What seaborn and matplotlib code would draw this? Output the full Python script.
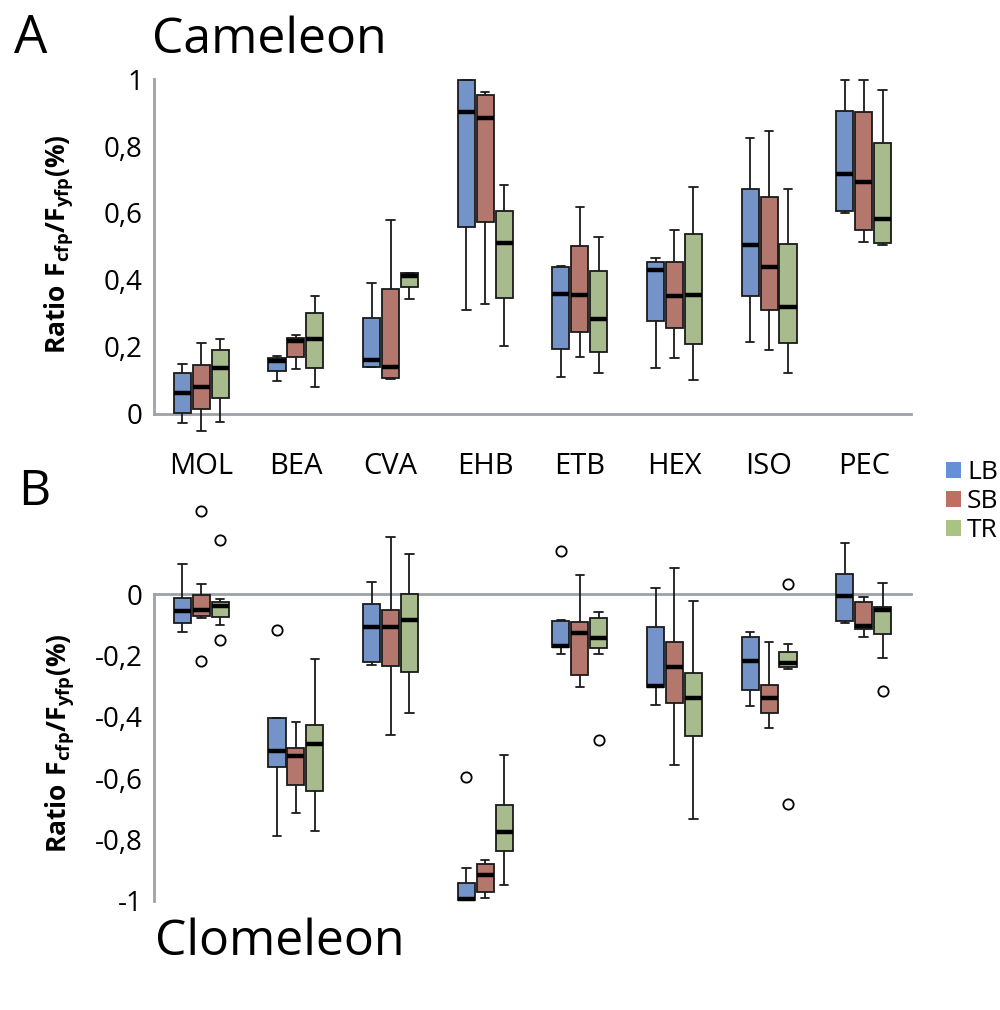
import numpy as np
import pandas as pd
import matplotlib
matplotlib.use("Agg")
import matplotlib.pyplot as plt
import seaborn as sns
from matplotlib.patches import Patch
from matplotlib.ticker import FuncFormatter, FixedLocator

categories = ['MOL', 'BEA', 'CVA', 'EHB', 'ETB', 'HEX', 'ISO', 'PEC']
groups = ['LB', 'SB', 'TR']
colors = ['#6690D6', '#C06E62', '#A8C384']

# five-number summaries per category: [whisker low, Q1, median, Q3, whisker high]
cam_LB = [[-0.028, 0.002, 0.064, 0.121, 0.149], [0.099, 0.129, 0.158, 0.166, 0.173],
          [0.141, 0.141, 0.161, 0.286, 0.392], [0.311, 0.558, 0.902, 0.996, 0.996],
          [0.111, 0.195, 0.357, 0.440, 0.442], [0.136, 0.278, 0.430, 0.453, 0.465],
          [0.216, 0.353, 0.505, 0.671, 0.823], [0.599, 0.607, 0.716, 0.904, 0.997]]
cam_SB = [[-0.051, 0.015, 0.081, 0.146, 0.211], [0.133, 0.171, 0.218, 0.228, 0.235],
          [0.104, 0.108, 0.141, 0.374, 0.579], [0.328, 0.574, 0.883, 0.953, 0.960],
          [0.170, 0.246, 0.354, 0.501, 0.618], [0.168, 0.256, 0.351, 0.453, 0.549],
          [0.191, 0.310, 0.440, 0.647, 0.846], [0.514, 0.549, 0.694, 0.901, 0.997]]
cam_TR = [[-0.023, 0.047, 0.136, 0.191, 0.225], [0.081, 0.138, 0.225, 0.302, 0.353],
          [0.343, 0.378, 0.412, 0.420, 0.420], [0.204, 0.347, 0.510, 0.607, 0.684],
          [0.121, 0.185, 0.284, 0.426, 0.529], [0.101, 0.210, 0.356, 0.536, 0.678],
          [0.121, 0.211, 0.320, 0.507, 0.673], [0.503, 0.510, 0.583, 0.808, 0.967]]

clo_LB = [[-0.123, -0.095, -0.053, -0.012, 0.098], [-0.787, -0.563, -0.510, -0.404, -0.404],
          [-0.229, -0.220, -0.105, -0.032, 0.039], [-0.996, -0.996, -0.993, -0.942, -0.891],
          [-0.195, -0.173, -0.168, -0.088, -0.085], [-0.362, -0.303, -0.299, -0.108, 0.022],
          [-0.364, -0.313, -0.216, -0.138, -0.122], [-0.095, -0.087, -0.004, 0.065, 0.167]]
clo_SB = [[-0.078, -0.070, -0.052, -0.002, 0.033], [-0.712, -0.623, -0.526, -0.501, -0.416],
          [-0.459, -0.233, -0.107, -0.051, 0.188], [-0.991, -0.970, -0.915, -0.880, -0.868],
          [-0.302, -0.264, -0.125, -0.089, 0.064], [-0.557, -0.353, -0.236, -0.154, 0.085],
          [-0.437, -0.387, -0.337, -0.295, -0.157], [-0.138, -0.114, -0.102, -0.025, -0.010]]
clo_TR = [[-0.099, -0.074, -0.037, -0.025, -0.016], [-0.772, -0.640, -0.487, -0.426, -0.211],
          [-0.387, -0.253, -0.084, 0.000, 0.133], [-0.948, -0.837, -0.776, -0.688, -0.525],
          [-0.195, -0.175, -0.142, -0.077, -0.059], [-0.733, -0.461, -0.339, -0.257, -0.021],
          [-0.243, -0.237, -0.224, -0.188, -0.163], [-0.209, -0.129, -0.051, -0.040, 0.038]]

# outliers (Clomeleon)
out_cat = ['MOL', 'MOL', 'MOL', 'MOL', 'BEA', 'EHB', 'ETB', 'ETB', 'ISO', 'ISO', 'PEC']
out_grp = ['SB', 'SB', 'TR', 'TR', 'LB', 'LB', 'LB', 'TR', 'TR', 'TR', 'TR']
out_val = [0.272, -0.217, 0.176, -0.150, -0.116, -0.597, 0.141, -0.476, 0.032, -0.683, -0.315]

sns.set_style("white")
plt.rcParams['font.family'] = ['Open Sans', 'DejaVu Sans']
plt.rcParams['mathtext.fontset'] = 'custom'
plt.rcParams['mathtext.rm'] = 'Open Sans'
plt.rcParams['mathtext.bf'] = 'Open Sans:bold'
plt.rcParams['text.color'] = 'black'

AXC = '#9DA1A8'
palette = dict(zip(groups, colors))


def long_df(series):
    rows = []
    for g, arr in zip(groups, series):
        for c, vals in zip(categories, arr):
            for v in vals:
                rows.append((c, g, v))
    return pd.DataFrame(rows, columns=['cat', 'grp', 'val'])


def fmt(v, pos):
    if abs(v) < 1e-9:
        return '0'
    return f"{v:g}".replace('.', ',')


fig = plt.figure(figsize=(10, 10.1), dpi=100)
axA = fig.add_axes([0.154, 0.5636, 0.757, 0.3648])
axB = fig.add_axes([0.154, 0.1019, 0.757, 0.4463])

for ax, series in [(axA, [cam_LB, cam_SB, cam_TR]), (axB, [clo_LB, clo_SB, clo_TR])]:
    df = long_df(series)
    sns.boxplot(data=df, x='cat', y='val', hue='grp', order=categories, hue_order=groups,
                palette=palette, width=0.6, gap=0.1, whis=(0, 100), ax=ax,
                linecolor='#1a1a1a', linewidth=1.3, legend=False, showfliers=False,
                medianprops=dict(color='black', linewidth=3.2))
    ax.set_xlim(-0.5, len(categories) - 0.5)
    ax.set_xlabel('')
    ax.set_ylabel('')
    for s in ['top', 'right']:
        ax.spines[s].set_visible(False)
    for s in ['left', 'bottom']:
        ax.spines[s].set_color(AXC)
        ax.spines[s].set_linewidth(2.0)
        ax.spines[s].set_zorder(0.5)
    ax.spines['bottom'].set_position(('data', 0))
    ax.spines['bottom'].set_bounds(-0.5, len(categories) - 0.5)
    ax.xaxis.set_major_locator(FixedLocator(np.arange(-0.5, len(categories), 1.0)))
    ax.set_xticklabels([])
    ax.yaxis.set_major_formatter(FuncFormatter(fmt))
    ax.tick_params(axis='y', direction='out', length=5, width=2.0, color=AXC,
                   labelsize=20, pad=3, labelcolor='black')
    ax.set_facecolor('none')

axA.set_ylim(-0.08, 1.02)
axA.spines['left'].set_bounds(0, 1)
axA.set_yticks([0, 0.2, 0.4, 0.6, 0.8, 1.0])
axA.tick_params(axis='x', direction='out', length=5, width=2.0, color=AXC)

axB.set_ylim(-1.02, 0.45)
axB.spines['left'].set_bounds(-1, 0)
axB.set_yticks([0, -0.2, -0.4, -0.6, -0.8, -1.0])
axB.tick_params(axis='x', direction='in', length=6, width=2.0, color=AXC)

# outliers
ox = [categories.index(c) + (groups.index(g) - 1) * 0.2 for c, g in zip(out_cat, out_grp)]
sns.scatterplot(x=ox, y=out_val, ax=axB, color='white', edgecolor='black',
                linewidth=1.3, s=55, zorder=4, legend=False)
axB.set_xlim(-0.5, len(categories) - 0.5)

# category labels between panels
for i, c in enumerate(categories):
    axB.text(i, 0.418, c, ha='center', va='center', fontsize=21, color='black')

ylab = r'$\mathbf{Ratio\ F_{cfp}/F_{yfp}(\%)}$'
fig.text(0.059, 1 - 244 / 1010, ylab, rotation=90, ha='center', va='center', fontsize=19)
fig.text(0.060, 1 - 743 / 1010, ylab, rotation=90, ha='center', va='center', fontsize=19)

fig.text(0.014, 1 - 53 / 1010, 'A', fontsize=38, va='baseline', ha='left')
fig.text(0.152, 1 - 53 / 1010, 'Cameleon', fontsize=36, va='baseline', ha='left')
fig.text(0.018, 1 - 505 / 1010, 'B', fontsize=36, va='baseline', ha='left')
fig.text(0.155, 1 - 955 / 1010, 'Clomeleon', fontsize=36, va='baseline', ha='left')

handles = [Patch(facecolor=col, edgecolor='none', label=g) for g, col in zip(groups, colors)]
fig.legend(handles=handles, loc='upper left', bbox_to_anchor=(0.946, 1 - 460 / 1010),
           frameon=False, fontsize=19, handlelength=0.55, handleheight=0.55,
           handletextpad=0.25, labelspacing=0.15, borderaxespad=0, borderpad=0)

fig.savefig('out.png', dpi=100, facecolor='white')
